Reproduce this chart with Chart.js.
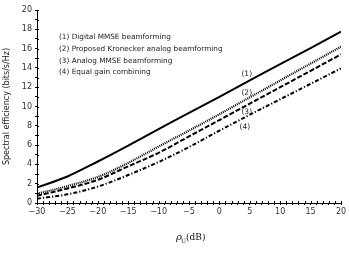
<!DOCTYPE html>
<html>
<head>
<meta charset="utf-8">
<script src="https://cdn.jsdelivr.net/npm/chart.js@4.4.1/dist/chart.umd.min.js"></script>
<style>
  html, body { margin: 0; padding: 0; background: #fff; }
  #wrap { width: 349px; height: 253px; position: relative; }
</style>
</head>
<body>
<div id="wrap"><canvas id="se_chart"></canvas></div>
<script>
// SNR axis (dB)
var snr = [-30, -25, -20, -15, -10, -5, 0, 5, 10, 15, 20];
// spectral efficiency per scheme (bits/s/Hz)
var digitalMmse   = [1.6, 2.75, 4.3, 5.95, 7.65, 9.35, 11.0, 12.7, 14.4, 16.05, 17.75];
var kroneckerAbf  = [0.95, 1.75, 2.7, 4.15, 5.85, 7.5, 9.2, 10.95, 12.7, 14.45, 16.2];
var analogMmse    = [0.75, 1.5, 2.4, 3.8, 5.2, 6.9, 8.6, 10.3, 12.0, 13.7, 15.4];
var equalGain     = [0.45, 0.9, 1.7, 2.9, 4.25, 5.8, 7.5, 9.15, 10.75, 12.35, 13.95];

var legendLines = [
    '(1) Digital MMSE beamforming',
    '(2) Proposed Kronecker analog beamforming',
    '(3) Analog MMSE beamforming',
    '(4) Equal gain combining'
];
var curveTags = ['(1)', '(2)', '(3)', '(4)'];
var tagX = [4.5, 4.5, 4.5, 4.2];
var tagY = [13.4, 11.4, 9.4, 7.9];

function pts(ys){
    return snr.map(function(x, i){ return {x: x, y: ys[i]}; });
}

var extras = {
    id: 'extras',
    afterDraw: function(chart){
        var ctx = chart.ctx;
        var xs = chart.scales.x, ys = chart.scales.y;
        ctx.save();
        // inner half of the ticks so they cross the axis
        ctx.strokeStyle = '#000';
        ctx.lineWidth = 1;
        ctx.beginPath();
        xs.ticks.forEach(function(t){
            var px = Math.round(xs.getPixelForValue(t.value)) + 0.5;
            ctx.moveTo(px, xs.top);
            ctx.lineTo(px, xs.top - 2);
        });
        ys.ticks.forEach(function(t){
            var py = Math.round(ys.getPixelForValue(t.value)) + 0.5;
            ctx.moveTo(ys.right, py);
            ctx.lineTo(ys.right + 2, py);
        });
        ctx.stroke();

        // text legend
        ctx.fillStyle = '#222';
        ctx.font = '7.3px "DejaVu Sans", sans-serif';
        ctx.textBaseline = 'middle';
        ctx.textAlign = 'left';
        var ly = [37, 49.5, 61, 72];
        legendLines.forEach(function(s, i){ ctx.fillText(s, 59, ly[i]); });

        // curve tags
        ctx.font = '7.5px "DejaVu Sans", sans-serif';
        ctx.textAlign = 'center';
        curveTags.forEach(function(s, i){
            ctx.fillText(s, xs.getPixelForValue(tagX[i]), ys.getPixelForValue(tagY[i]));
        });

        // x axis title: rho_U (dB)
        var cx = (xs.left + xs.right) / 2;
        ctx.fillStyle = '#111';
        ctx.textAlign = 'left';
        ctx.textBaseline = 'alphabetic';
        ctx.font = 'italic 10px "DejaVu Serif", serif';
        ctx.fillText('\u03c1', cx - 13, 240);
        ctx.font = '6px "DejaVu Serif", serif';
        ctx.fillText('U', cx - 8, 243);
        ctx.font = '9px "DejaVu Serif", serif';
        ctx.fillText('(dB)', cx - 3, 240);
        ctx.restore();
    }
};

var tickFont = {family: '"DejaVu Sans", sans-serif', size: 8};

var chart = new Chart(document.getElementById('se_chart').getContext('2d'), {
    type: 'line',
    data: {
        datasets: [{
            data: pts(digitalMmse),
            borderColor: '#000',
            borderWidth: 2,
            pointRadius: 0
        }, {
            data: pts(kroneckerAbf),
            borderColor: '#000',
            borderWidth: 2.2,
            borderDash: [1, 1],
            pointRadius: 0
        }, {
            data: pts(analogMmse),
            borderColor: '#000',
            borderWidth: 2,
            borderDash: [5, 2],
            pointRadius: 0
        }, {
            data: pts(equalGain),
            borderColor: '#000',
            borderWidth: 2,
            borderDash: [4, 2, 1.2, 2],
            pointRadius: 0
        }]
    },
    options: {
        responsive: true,
        maintainAspectRatio: false,
        animation: false,
        devicePixelRatio: 1,
        elements: { line: { tension: 0, cubicInterpolationMode: 'monotone' } },
        layout: { padding: { top: 10, right: 8, left: 0, bottom: 0 } },
        plugins: {
            legend: { display: false },
            tooltip: { enabled: false }
        },
        scales: {
            x: {
                type: 'linear',
                min: -30,
                max: 20,
                afterFit: function(s){ s.height = 50; },
                border: { display: true, color: '#000', width: 1 },
                grid: { drawOnChartArea: false, drawTicks: true, tickLength: 2, color: '#000' },
                ticks: {
                    stepSize: 1,
                    autoSkip: false,
                    maxRotation: 0,
                    padding: 2,
                    color: '#333',
                    font: tickFont,
                    callback: function(v){ return v % 5 === 0 ? (v < 0 ? '\u2212' + (-v) : String(v)) : ''; }
                }
            },
            y: {
                min: 0,
                max: 20,
                afterFit: function(s){ s.width = 37; },
                border: { display: true, color: '#000', width: 1 },
                grid: { drawOnChartArea: false, drawTicks: true, tickLength: 2, color: '#000' },
                ticks: {
                    stepSize: 1,
                    autoSkip: false,
                    padding: 3,
                    color: '#333',
                    font: tickFont,
                    callback: function(v){ return v % 2 === 0 ? String(v) : ''; }
                },
                title: {
                    display: true,
                    text: 'Spectral efficiency (bits/s/Hz)',
                    color: '#222',
                    font: {family: '"DejaVu Sans", sans-serif', size: 8},
                    padding: { top: 2, bottom: 0 }
                }
            }
        }
    },
    plugins: [extras]
});
</script>
</body>
</html>
